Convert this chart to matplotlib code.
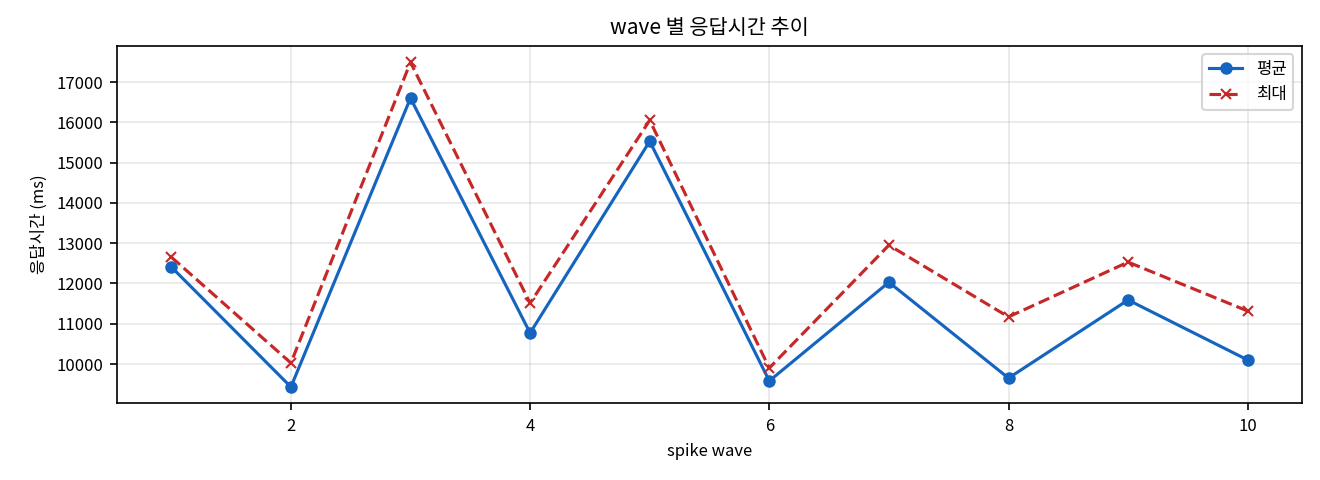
import matplotlib
matplotlib.use("Agg")
import matplotlib.pyplot as plt

plt.rcParams['font.family'] = ['Noto Sans CJK KR', 'DejaVu Sans']

waves = [1, 2, 3, 4, 5, 6, 7, 8, 9, 10]
avg_ms = [12410, 9430, 16600, 10770, 15530, 9580, 12030, 9650, 11590, 10100]
max_ms = [12655, 10025, 17490, 11510, 16050, 9900, 12950, 11170, 12530, 11315]

fig, ax = plt.subplots(figsize=(8.8, 3.2), dpi=150)
ax.plot(waves, avg_ms, marker="o", markersize=5, color="#1565c0", label="평균")
ax.plot(waves, max_ms, marker="x", markersize=5, linestyle="--", color="#c62828", label="최대")
ax.set_title("wave 별 응답시간 추이", fontsize=10)
ax.set_xlabel("spike wave", fontsize=8)
ax.set_ylabel("응답시간 (ms)", fontsize=8)
ax.tick_params(labelsize=8)
ax.grid(True, alpha=0.3)
ax.legend(loc="upper right", fontsize=8)
fig.subplots_adjust(left=0.089, right=0.986, top=0.904, bottom=0.16)
fig.savefig("out.png", dpi=150)
